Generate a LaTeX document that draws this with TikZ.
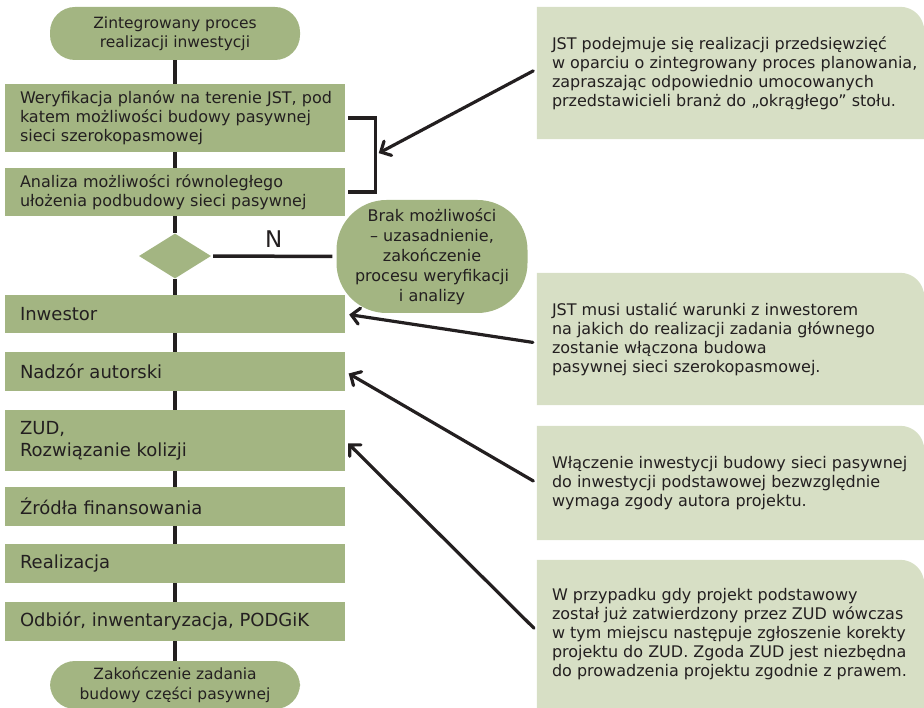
\documentclass[tikz,border=0pt]{standalone}
\usepackage{fontspec}
\setmainfont{DejaVu Sans}
\usetikzlibrary{shapes.geometric,arrows.meta,calc}
\definecolor{boxgreen}{HTML}{A3B582}
\definecolor{notegreen}{HTML}{D7DFC5}
\definecolor{ink}{HTML}{231F20}
\newcommand{\smalltxt}{\fontsize{16}{19}\selectfont}
\newcommand{\bigtxt}{\fontsize{18}{22}\selectfont}
\begin{document}
\begin{tikzpicture}[x=1pt,y=-1pt,
  every node/.style={text=ink},
  procbox/.style={rectangle, fill=boxgreen, minimum width=340pt, inner sep=0pt},
  terminal/.style={rectangle, rounded corners=25pt, fill=boxgreen, minimum width=250pt,
    inner sep=0pt, align=center, font=\fontsize{15.5}{19.5}\selectfont},
  decision/.style={diamond, fill=boxgreen, minimum width=72pt, minimum height=45pt, inner sep=0pt},
  stopbox/.style={rectangle, rounded corners=50pt, fill=boxgreen, minimum width=191pt,
    minimum height=113pt, inner sep=0pt, align=center, font=\fontsize{16}{20}\selectfont},
  notebox/.style={rectangle, minimum width=387pt, inner sep=0pt},
  btext/.style={anchor=west, inner sep=0pt, align=left},
  conn/.style={draw=ink, line width=3.5pt},
  pointer/.style={draw=ink, line width=3.2pt, line cap=round,
    -{Straight Barb[length=8pt,width=16pt,line cap=round]}, shorten <=4pt, shorten >=4pt}
]
\useasboundingbox (0,0) rectangle (924,708);

% main column
\node[terminal, minimum height=53pt] (start) at (175,33.5) {Zintegrowany proces\\realizacji inwestycji};
\node[procbox, minimum height=68pt] (b1) at (175,118) {};
\node[btext, font=\smalltxt] at ([xshift=15pt]b1.west) {Weryfikacja planów na terenie JST, pod\\katem możliwości budowy pasywnej\\sieci szerokopasmowej};
\node[procbox, minimum height=48pt] (b2) at (175,192) {};
\node[btext, font=\smalltxt] at ([xshift=15pt]b2.west) {Analiza możliwości równoległego\\ułożenia podbudowy sieci pasywnej};
\node[decision] (dec) at (175,256) {};
\node[stopbox] (stop) at (432,256.5) {Brak możliwości\\– uzasadnienie,\\zakończenie\\procesu weryfikacji\\i analizy};
\node[procbox, minimum height=38pt] (inw) at (175,314) {};
\node[btext, font=\bigtxt] at ([xshift=15pt]inw.west) {Inwestor};
\node[procbox, minimum height=39pt] (nad) at (175,371.5) {};
\node[btext, font=\bigtxt] at ([xshift=15pt]nad.west) {Nadzór autorski};
\node[procbox, minimum height=61pt] (zud) at (175,440.5) {};
\node[btext, font=\bigtxt] at ([xshift=15pt]zud.west) {ZUD,\\Rozwiązanie kolizji};
\node[procbox, minimum height=39pt] (zrod) at (175,506.5) {};
\node[btext, font=\bigtxt] at ([xshift=15pt]zrod.west) {Źródła finansowania};
\node[procbox, minimum height=39pt] (real) at (175,563.5) {};
\node[btext, font=\bigtxt] at ([xshift=15pt]real.west) {Realizacja};
\node[procbox, minimum height=39pt] (odb) at (175,621.5) {};
\node[btext, font=\bigtxt] at ([xshift=15pt]odb.west) {Odbiór, inwentaryzacja, PODGiK};
\node[terminal, minimum height=48pt] (end) at (175,685) {Zakończenie zadania\\budowy części pasywnej};

% flow line
\draw[conn] (start) -- (b1);
\draw[conn] (b1) -- (b2);
\draw[conn] (b2) -- (dec);
\draw[conn] (dec) -- (inw);
\draw[conn] (inw) -- (nad);
\draw[conn] (nad) -- (zud);
\draw[conn] (zud) -- (zrod);
\draw[conn] (zrod) -- (real);
\draw[conn] (real) -- (odb);
\draw[conn] (odb) -- (end);
\draw[conn, shorten <=2pt, shorten >=4pt] (dec.east) -- node[above=7pt, font=\fontsize{23}{26}\selectfont, inner sep=0pt] {N} (stop.west);

% bracket joining the two first steps
\coordinate (brtop) at ([xshift=30pt]b1.east);
\coordinate (brbot) at ([xshift=30pt]b2.east);
\coordinate (brmid) at ($(brtop)!0.5!(brbot)$);
\draw[conn, line width=3.2pt] ([xshift=3pt]b1.east) -- (brtop) -- (brbot) -- ([xshift=3pt]b2.east);

% notes on the right
\foreach \nm/\cy/\h in {na/73/132, nb/339/132, nc/483/114, nd/634/148} {
  \node[notebox, minimum height=\h pt] (\nm) at (730.5,\cy) {};
  \fill[notegreen] (\nm.south west) -- (\nm.north west) -- ([xshift=-24pt]\nm.north east)
    arc[start angle=90, end angle=0, radius=24pt] -- (\nm.south east) -- cycle;
}
\node[btext, font=\smalltxt] at ([xshift=15pt]na.west) {JST podejmuje się realizacji przedsięwzięć\\w oparciu o zintegrowany proces planowania,\\zapraszając odpowiednio umocowanych\\przedstawicieli branż do „okrągłego” stołu.};
\node[btext, font=\smalltxt] at ([xshift=15pt]nb.west) {JST musi ustalić warunki z inwestorem\\na jakich do realizacji zadania głównego\\zostanie włączona budowa\\pasywnej sieci szerokopasmowej.};
\node[btext, font=\smalltxt] at ([xshift=15pt]nc.west) {Włączenie inwestycji budowy sieci pasywnej\\do inwestycji podstawowej bezwzględnie\\wymaga zgody autora projektu.};
\node[btext, font=\smalltxt] at ([xshift=15pt]nd.west) {W przypadku gdy projekt podstawowy\\został już zatwierdzony przez ZUD wówczas\\w tym miejscu następuje zgłoszenie korekty\\projektu do ZUD. Zgoda ZUD jest niezbędna\\do prowadzenia projektu zgodnie z prawem.};

% pointers from the notes
\draw[pointer] ([yshift=4pt]na.west) -- (brmid);
\draw[pointer] ([yshift=-4pt]nb.west) -- (inw.east);
\draw[pointer] (nc.west) -- (nad.east);
\draw[pointer] ([yshift=3pt]nd.west) -- (zud.east);
\end{tikzpicture}
\end{document}
